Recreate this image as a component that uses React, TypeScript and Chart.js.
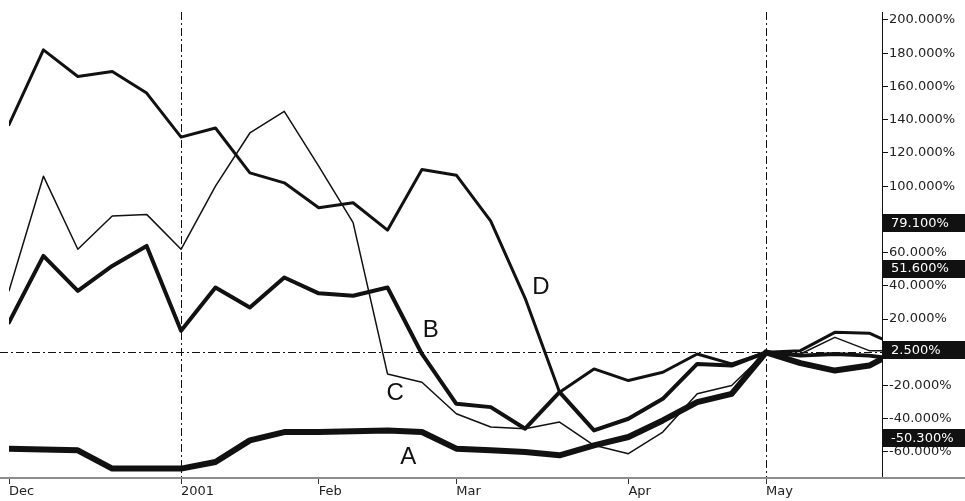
import React, { useEffect, useRef } from 'react';
import { Chart, registerables } from 'chart.js';

Chart.register(...registerables);

// weekly observations (week index from the first December week), last one a partial week
const WEEKS = [0, 1, 2, 3, 4, 5, 6, 7, 8, 9, 10, 11, 12, 13, 14, 15, 16, 17, 18, 19, 20, 21, 22, 23, 24, 25, 25.37];

const SERIES_A = [-58, -58.5, -59, -70, -70, -70, -66, -53, -48, -48, -47.5, -47, -48, -58, -59, -60, -62, -56, -51, -41, -30, -25, 0, -6.5, -11, -8, -4];
const SERIES_B = [18, 58, 37, 52, 64, 13, 39, 27, 45, 35.5, 34, 39, -1, -31, -33, -46, -24, -47, -40, -28, -7, -8, 0, -2, -1, -2, -3];
const SERIES_C = [37, 106, 62, 82, 83, 62, 100, 132, 145, 112, 78, -13, -18, -37, -45, -46, -42, -56, -61, -48, -25, -20, 0, -1, 9, 1, 1];
const SERIES_D = [137, 182, 166, 169, 156, 129.5, 135, 108, 102, 87, 90, 73.5, 110, 106.6, 79, 32.5, -24, -10, -17, -12, -1, -7, 0, 1, 12, 11.5, 8];

const SERIES_NAMES = ['A', 'B', 'C', 'D'];
const NAME_AT_WEEK = [11.6, 12.26, 11.22, 15.46];
const NAME_AT_VALUE = [-62.4, 14, -23.9, 39.9];

const Y_TICKS = [-60, -40, -20, 0, 20, 40, 60, 80, 100, 120, 140, 160, 180, 200];
const X_TICKS = [0, 5, 9, 13, 18, 22];
const X_TICK_LABELS = ['Dec', '2001', 'Feb', 'Mar', 'Apr', 'May'];
const MARKER_WEEKS = [5, 22];
const BASELINE_VALUE = 0;

const LAST_VALUES = [79.1, 51.6, 2.5, -50.3];
const LAST_VALUE_LABELS = ['79.100%', '51.600%', '2.500%', '-50.300%'];

const TICK_FONT = '"DejaVu Sans", sans-serif';
const NAME_FONT = '"Liberation Sans", Arial, sans-serif';

const overlayPlugin = {
  id: 'overlay',
  beforeDatasetsDraw(chart: any) {
    const { ctx, chartArea, scales } = chart;
    const x = scales.x;
    const y = scales.y;
    ctx.save();
    ctx.strokeStyle = '#8c8c8c';
    ctx.lineWidth = 2;
    ctx.beginPath();
    ctx.moveTo(0, chartArea.bottom + 1);
    ctx.lineTo(chart.width, chartArea.bottom + 1);
    ctx.stroke();
    ctx.strokeStyle = '#111';
    ctx.lineWidth = 1;
    ctx.setLineDash([8, 3, 2, 3]);
    const y0 = Math.round(y.getPixelForValue(BASELINE_VALUE)) + 0.5;
    ctx.beginPath();
    ctx.moveTo(0, y0);
    ctx.lineTo(chartArea.right, y0);
    ctx.stroke();
    for (const w of MARKER_WEEKS) {
      const px = Math.round(x.getPixelForValue(w)) + 0.5;
      ctx.beginPath();
      ctx.moveTo(px, chartArea.top);
      ctx.lineTo(px, chartArea.bottom);
      ctx.stroke();
    }
    ctx.restore();
  },
  afterDraw(chart: any) {
    const { ctx, chartArea, scales } = chart;
    const x = scales.x;
    const y = scales.y;
    ctx.save();
    ctx.fillStyle = '#111';
    ctx.font = '24px ' + NAME_FONT;
    ctx.textAlign = 'center';
    ctx.textBaseline = 'middle';
    SERIES_NAMES.forEach((n, i) => {
      ctx.fillText(n, x.getPixelForValue(NAME_AT_WEEK[i]), y.getPixelForValue(NAME_AT_VALUE[i]) + 1);
    });
    ctx.font = '13px ' + TICK_FONT;
    ctx.textAlign = 'left';
    LAST_VALUES.forEach((v, i) => {
      const cy = y.getPixelForValue(v) + 2;
      ctx.fillStyle = '#111';
      ctx.fillRect(chartArea.right + 1, Math.round(cy - 9), chart.width - chartArea.right - 1, 18);
      ctx.fillStyle = '#fff';
      ctx.fillText(LAST_VALUE_LABELS[i], chartArea.right + 9, cy + 0.5);
    });
    ctx.restore();
  },
};

export default function App() {
  const ref = useRef<HTMLCanvasElement | null>(null);

  useEffect(() => {
    const canvas = ref.current;
    if (!canvas) return;
    const mk = (label: string, data: number[], width: number) => ({
      label,
      data: WEEKS.map((w, i) => ({ x: w, y: data[i] })),
      borderColor: '#111',
      backgroundColor: '#111',
      borderWidth: width,
      pointRadius: 0,
      tension: 0,
      borderJoinStyle: 'round' as const,
      borderCapStyle: 'round' as const,
      fill: false,
    });
    const chart = new Chart(canvas, {
      type: 'line',
      data: {
        datasets: [
          mk('A', SERIES_A, 6),
          mk('B', SERIES_B, 4),
          mk('C', SERIES_C, 1.5),
          mk('D', SERIES_D, 3),
        ],
      },
      options: {
        animation: false,
        responsive: false,
        devicePixelRatio: 1,
        layout: { padding: { left: 9, top: 12, right: 0, bottom: 0 } },
        plugins: { legend: { display: false }, tooltip: { enabled: false } },
        scales: {
          x: {
            type: 'linear',
            min: 0,
            max: 25.37,
            border: { display: false },
            grid: { drawOnChartArea: false, drawTicks: true, tickLength: 7, color: '#333' },
            ticks: {
              align: 'start',
              padding: 0,
              maxRotation: 0,
              autoSkip: false,
              color: '#222',
              font: { family: TICK_FONT, size: 13 },
              callback: (v: any) => {
                const i = X_TICKS.indexOf(Number(v));
                return i >= 0 ? X_TICK_LABELS[i] : '';
              },
            },
            afterBuildTicks: (s: any) => {
              s.ticks = X_TICKS.map((v) => ({ value: v }));
            },
            afterFit: (s: any) => {
              s.height = 24;
              s.paddingLeft = 0;
              s.paddingRight = 0;
            },
          },
          y: {
            type: 'linear',
            position: 'right',
            min: -75.05,
            max: 204.81,
            border: { display: true, color: '#111', width: 1 },
            grid: { drawOnChartArea: false, drawTicks: true, tickLength: 6, color: '#111' },
            ticks: {
              padding: 1,
              color: '#222',
              font: { family: TICK_FONT, size: 13 },
              callback: (v: any) => Number(v).toFixed(3) + '%',
            },
            afterBuildTicks: (s: any) => {
              s.ticks = Y_TICKS.map((v) => ({ value: v }));
            },
            afterFit: (s: any) => {
              s.width = 83;
              s.paddingTop = 0;
              s.paddingBottom = 0;
            },
          },
        },
      },
      plugins: [overlayPlugin],
    });
    return () => chart.destroy();
  }, []);

  return (
    <div style={{ position: 'fixed', left: 0, top: 0, width: 965, height: 501, background: '#fff' }}>
      <canvas ref={ref} width={965} height={501} style={{ display: 'block' }} />
    </div>
  );
}
